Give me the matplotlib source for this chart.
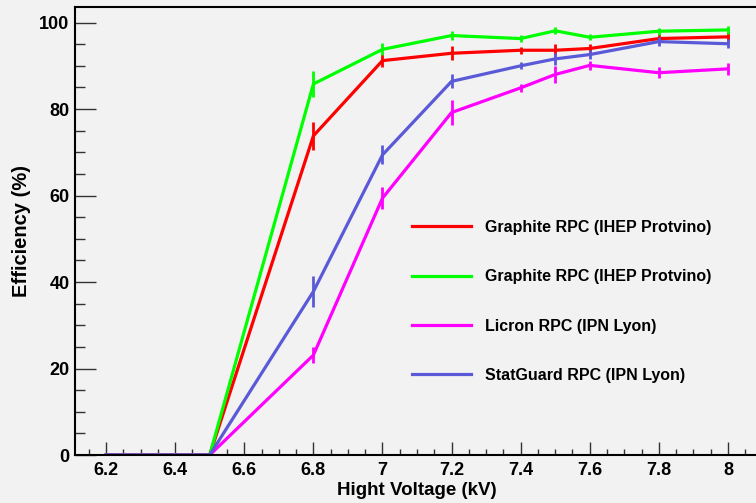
import matplotlib
matplotlib.use('Agg')
import matplotlib.pyplot as plt
from matplotlib.ticker import MultipleLocator

# high voltage points (kV)
hv = [6.2, 6.5, 6.8, 7.0, 7.2, 7.4, 7.5, 7.6, 7.8, 8.0]

# efficiencies (%) and errors
eff_graphite_a = [0, 0, 73.8, 91.2, 92.9, 93.6, 93.6, 94.0, 96.3, 96.7]
err_graphite_a = [0, 0, 3.3, 1.5, 1.6, 0.8, 1.4, 1.0, 1.0, 1.2]
eff_graphite_b = [0, 0, 85.8, 93.8, 97.0, 96.3, 98.1, 96.6, 98.0, 98.3]
err_graphite_b = [0, 0, 3.0, 1.4, 1.0, 0.8, 0.8, 0.7, 0.8, 0.9]
eff_licron = [0, 0, 23.1, 59.4, 79.2, 84.9, 88.0, 90.1, 88.4, 89.3]
err_licron = [0, 0, 1.9, 2.6, 2.8, 0.9, 1.9, 1.0, 1.3, 1.4]
eff_statguard = [0, 0, 37.8, 69.4, 86.4, 90.0, 91.6, 92.6, 95.6, 95.1]
err_statguard = [0, 0, 3.5, 2.2, 1.6, 0.8, 1.4, 1.1, 1.0, 1.0]

labels = ['Graphite RPC (IHEP Protvino)', 'Graphite RPC (IHEP Protvino)',
          'Licron RPC (IPN Lyon)', 'StatGuard RPC (IPN Lyon)']
colors = ['#ff0000', '#00ff00', '#ff00ff', '#5a5ad8']

plt.rcParams['font.family'] = ['Liberation Sans', 'DejaVu Sans']
plt.rcParams['font.weight'] = 'bold'

bg = '#f2f2f2'
fig = plt.figure(figsize=(7.56, 5.03), dpi=100, facecolor=bg)
ax = fig.add_axes([75 / 756, 48 / 503, 683 / 756, 448 / 503], facecolor=bg)

series = [(eff_graphite_a, err_graphite_a), (eff_graphite_b, err_graphite_b),
          (eff_licron, err_licron), (eff_statguard, err_statguard)]
for (eff, err), lab, col in zip(series, labels, colors):
    ax.errorbar(hv, eff, yerr=err, fmt='none', ecolor=col, elinewidth=2.0,
                capsize=0)
    ax.plot(hv, eff, color=col, lw=2.3, label=lab)

ax.set_xlim(6.11, 8.087)
ax.set_ylim(0, 103.6)
ax.xaxis.set_major_locator(MultipleLocator(0.2))
ax.xaxis.set_minor_locator(MultipleLocator(0.05))
ax.yaxis.set_major_locator(MultipleLocator(20))
ax.yaxis.set_minor_locator(MultipleLocator(5))
ax.xaxis.set_major_formatter(matplotlib.ticker.FuncFormatter(lambda v, p: '{:g}'.format(round(v, 2))))

ax.tick_params(axis='both', which='both', direction='in', colors='#333333',
               labelcolor='black', labelsize=13, width=1.0)
ax.tick_params(axis='y', which='major', length=15, pad=4)
ax.tick_params(axis='y', which='minor', length=7.2)
ax.tick_params(axis='x', which='major', length=9.4, pad=5)
ax.tick_params(axis='x', which='minor', length=4.3)
ax.tick_params(top=False, right=False, which='both')

for s in ['left', 'bottom', 'top']:
    ax.spines[s].set_linewidth(1.5)
    ax.spines[s].set_color('black')
ax.spines['right'].set_visible(False)

ax.set_xlabel('Hight Voltage (kV)', fontsize=13.5, fontweight='bold', labelpad=2)
ax.set_ylabel('Efficiency (%)', fontsize=14.5, fontweight='bold', labelpad=6)

ax.legend(loc='upper left', bbox_to_anchor=(412 / 756, 1 - 220 / 503),
          bbox_transform=fig.transFigure, frameon=False, fontsize=11.5,
          handlelength=3.7, handletextpad=0.9, labelspacing=2.15,
          borderpad=0, borderaxespad=0)

fig.savefig('out.png', dpi=100, facecolor=bg)
